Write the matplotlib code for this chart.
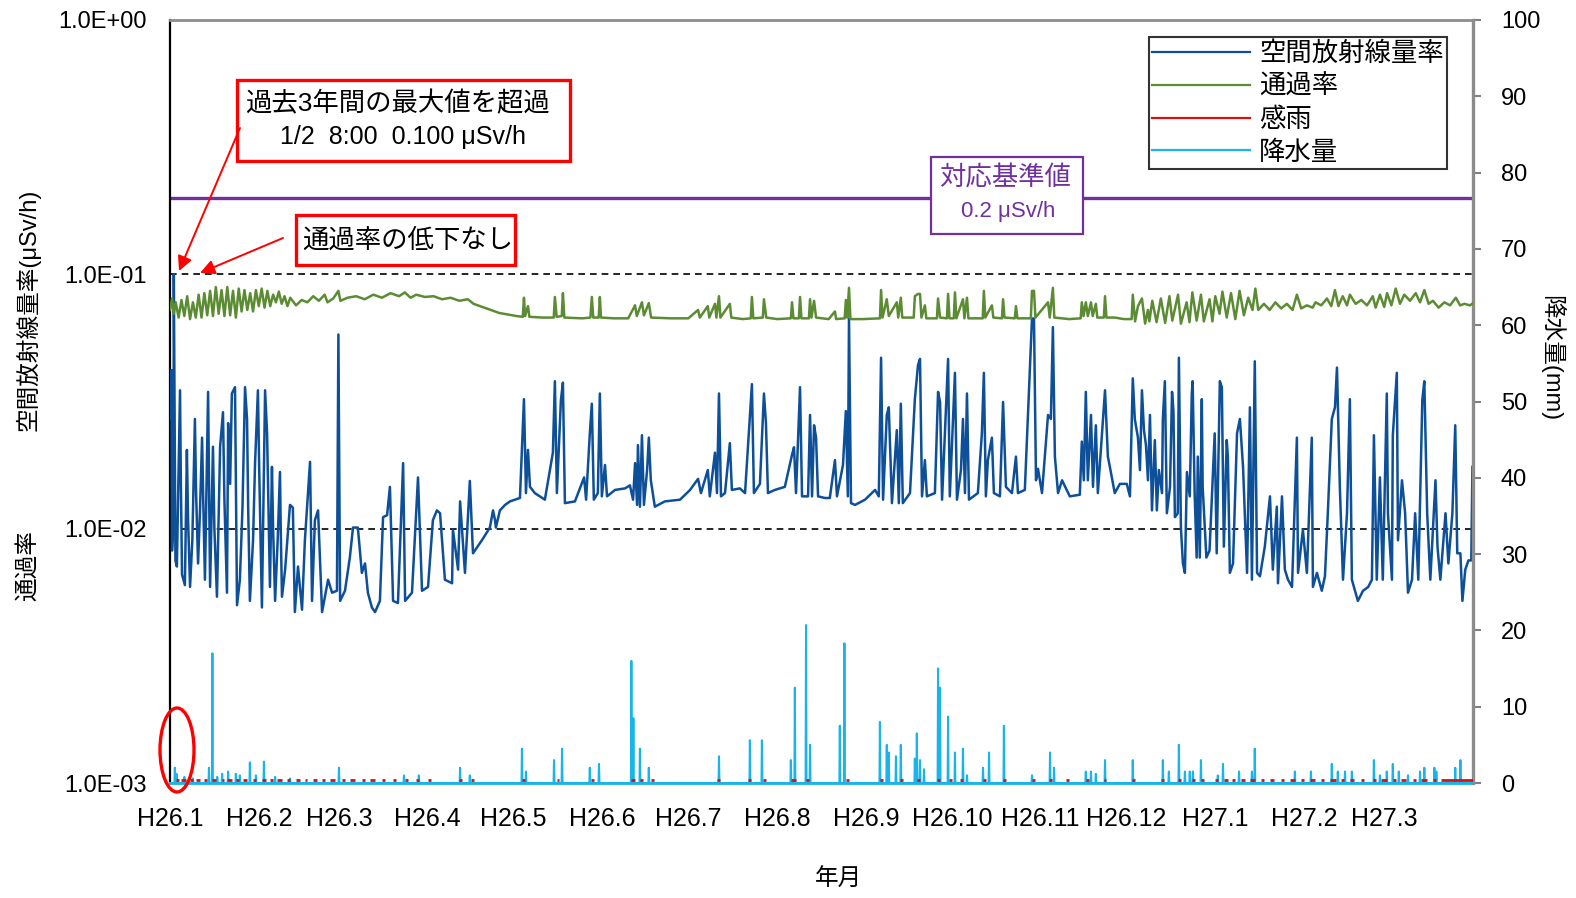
import matplotlib
matplotlib.use('Agg')
import matplotlib.pyplot as plt
from matplotlib.lines import Line2D
from matplotlib.patches import Rectangle, Ellipse, FancyArrowPatch
from matplotlib.ticker import NullLocator
from matplotlib.font_manager import FontProperties

# ---------------- data ----------------
month_days = [0, 31, 59, 90, 120, 151, 181, 212, 243, 273, 304, 334, 365, 396, 424]
month_labels = ['H26.1', 'H26.2', 'H26.3', 'H26.4', 'H26.5', 'H26.6', 'H26.7', 'H26.8',
                'H26.9', 'H26.10', 'H26.11', 'H26.12', 'H27.1', 'H27.2', 'H27.3']
left_ticks = [1e-3, 1e-2, 1e-1, 1e0]
left_tick_labels = ['1.0E-03', '1.0E-02', '1.0E-01', '1.0E+00']
right_ticks = list(range(0, 101, 10))
reference_level = 0.2          # 対応基準値 (μSv/h)
guide_levels = [0.1, 0.01]     # dashed guide lines

# 空間放射線量率 (μSv/h): (day since 2014-01-01, value)
dose_points = [
 (0.17,0.027),(0.52,0.042),(0.70,0.0082),(1.22,0.0108),(1.33,0.100),(1.9,0.0075),(2.4,0.0071),
 (3.5,0.035),(3.8,0.015),(4.2,0.0066),(5.2,0.0060),(5.9,0.0204),(6.3,0.011),(7.0,0.0059),(7.8,0.009),
 (8.7,0.027),(9.1,0.014),(9.8,0.0073),(10.5,0.012),(11.2,0.0228),(11.6,0.013),(12.2,0.0063),
 (13.3,0.0345),(13.6,0.016),(14.0,0.0059),(15.0,0.021),(15.5,0.010),(16.4,0.0054),(17.5,0.021),
 (18.5,0.0287),(19.0,0.013),(19.9,0.0056),(20.3,0.026),(21.0,0.015),(21.6,0.034),(22.7,0.036),
 (23.0,0.016),(23.4,0.0050),(24.4,0.0063),(25.3,0.012),(26.2,0.036),(26.9,0.027),(27.3,0.012),
 (27.9,0.0052),(29.0,0.009),(29.7,0.0181),(30.7,0.035),(31.2,0.016),(32.1,0.0049),(33.2,0.035),
 (33.9,0.0237),(34.9,0.0059),(35.6,0.0175),(36.0,0.010),(36.7,0.0052),(37.6,0.009),(38.4,0.0167),
 (38.7,0.0095),(39.1,0.0054),(40.2,0.0069),(41.9,0.0124),(42.9,0.0121),(43.6,0.0047),(44.7,0.0071),
 (46.1,0.0048),(47.1,0.0090),(48.9,0.0183),(49.6,0.0052),(50.6,0.0108),(51.7,0.0118),(53.1,0.0047),
 (54.1,0.0054),(55.2,0.0063),(56.6,0.0056),(58.3,0.0057),(58.8,0.058),(59.4,0.0052),(61.1,0.0057),
 (62.8,0.0077),(63.9,0.0101),(65.6,0.0101),(67.0,0.0067),(68.1,0.0073),(69.1,0.0056),(70.5,0.0049),
 (71.6,0.0047),(73.3,0.0052),(74.4,0.0111),(75.8,0.0113),(76.8,0.0146),(77.9,0.0052),(79.6,0.0051),
 (81.4,0.0181),(82.1,0.0052),(84.5,0.0056),(86.6,0.0159),(88.0,0.0057),(90.1,0.0059),(91.8,0.0108),
 (93.2,0.0118),(94.3,0.0115),(96.0,0.0063),(98.5,0.0061),(98.8,0.0099),(100.6,0.0069),(101.3,0.0128),
 (103.0,0.0067),(104.7,0.0154),(105.8,0.0080),(108.9,0.0090),(111.7,0.0101),(112.8,0.0118),(113.5,0.0108),
 (113.8,0.0101),(115.2,0.0118),(117.0,0.0124),(118.7,0.0128),(122.2,0.0132),(123.6,0.0323),(124.3,0.0138),
 (125.0,0.0204),(125.7,0.0146),(127.4,0.0138),(130.9,0.0130),(133.7,0.0199),(134.4,0.038),(135.1,0.0138),
 (136.5,0.032),(137.2,0.0375),(137.9,0.0126),(141.4,0.0128),(144.6,0.0159),(145.3,0.0130),(146.6,0.0237),
 (147.3,0.031),(148.0,0.0130),(149.4,0.0138),(150.1,0.034),(150.8,0.0134),(151.9,0.0178),(152.6,0.0134),
 (155.4,0.0142),(158.9,0.0144),(160.6,0.0148),(161.7,0.0130),(162.4,0.0181),(163.1,0.0124),(163.4,0.0213),
 (164.1,0.0122),(164.8,0.0233),(165.5,0.0124),(166.6,0.0170),(167.2,0.0228),(167.9,0.0155),(169.3,0.0122),
 (172.8,0.0128),(178.1,0.0130),(181.6,0.0142),(184.4,0.0157),(185.4,0.0138),(187.8,0.0170),(188.5,0.0134),
 (190.3,0.0199),(191.0,0.0138),(191.7,0.0340),(192.4,0.0134),(193.8,0.0138),(195.5,0.0217),(196.2,0.0142),
 (199.0,0.0144),(200.8,0.0138),(203.2,0.037),(203.9,0.0138),(206.0,0.0150),(207.4,0.034),(208.1,0.026),
 (208.8,0.0138),(211.2,0.0142),(214.7,0.0146),(217.2,0.0195),(217.9,0.0209),(218.6,0.0138),(220.0,0.036),
 (220.7,0.0134),(222.8,0.0134),(223.5,0.028),(224.2,0.0134),(224.9,0.0255),(225.6,0.0228),(226.3,0.0134),
 (228.7,0.0132),(230.4,0.0132),(232.2,0.0186),(232.9,0.0134),(235.0,0.0178),(236.0,0.029),(236.7,0.0134),
 (237.1,0.067),(237.8,0.0126),(239.2,0.0124),(242.7,0.0130),(246.2,0.0142),(247.5,0.0134),(248.3,0.047),
 (249.0,0.0130),(250.3,0.028),(251.0,0.030),(252.1,0.0126),(253.8,0.0244),(254.5,0.0126),(255.2,0.031),
 (255.9,0.0126),(258.4,0.0138),(260.1,0.0323),(261.2,0.044),(261.9,0.0465),(262.6,0.0134),(263.6,0.0186),
 (264.3,0.0134),(267.1,0.0138),(268.2,0.0345),(268.9,0.0315),(269.6,0.0130),(271.7,0.0465),(272.3,0.0134),
 (274.1,0.041),(274.8,0.0130),(276.2,0.0170),(276.9,0.027),(277.6,0.0138),(278.3,0.034),(279.0,0.0130),
 (282.1,0.0138),(283.5,0.0237),(284.2,0.041),(284.9,0.0134),(285.6,0.0186),(287.0,0.0228),(287.7,0.0138),
 (289.8,0.0134),(290.9,0.0315),(291.9,0.0146),(294.0,0.0138),(295.4,0.0192),(296.1,0.0138),(298.5,0.0142),
 (301.0,0.067),(301.7,0.067),(302.4,0.0155),(303.1,0.0172),(304.5,0.0138),(306.6,0.028),(307.6,0.027),
 (308.3,0.062),(309.0,0.0192),(310.1,0.0138),(311.5,0.0155),(314.2,0.0134),(317.7,0.0136),(318.4,0.022),
 (319.1,0.0155),(319.8,0.0345),(320.5,0.0155),(321.6,0.028),(322.3,0.0146),(323.3,0.0255),(324.0,0.0138),
 (326.5,0.035),(327.5,0.0192),(328.2,0.0175),(329.9,0.0138),(331.7,0.0150),(334.1,0.0150),(335.2,0.0134),
 (336.2,0.039),(336.9,0.027),(338.0,0.0228),(338.7,0.0170),(339.4,0.035),(340.1,0.0244),(340.8,0.0213),
 (341.5,0.0155),(342.2,0.028),(342.9,0.0118),(343.9,0.0223),(344.6,0.0118),(345.3,0.0170),(346.4,0.0138),
 (346.7,0.027),(347.4,0.038),(348.1,0.0115),(349.2,0.0146),(349.9,0.0345),(350.4,0.029),(350.9,0.0111),
 (351.9,0.0115),(352.3,0.047),(353.0,0.0101),(353.7,0.0073),(354.4,0.0067),(355.1,0.0167),(356.1,0.0134),
 (356.8,0.034),(357.1,0.038),(357.8,0.0138),(358.5,0.0077),(358.9,0.0192),(359.6,0.0077),(360.3,0.0323),
 (360.6,0.0146),(361.9,0.0077),(363.0,0.0082),(364.8,0.0237),(365.5,0.0080),(366.6,0.038),(367.3,0.036),
 (368.0,0.0085),(369.0,0.0223),(369.4,0.0192),(370.1,0.0067),(371.2,0.0073),(372.6,0.0237),(373.6,0.027),
 (374.7,0.0175),(376.1,0.0067),(377.1,0.030),(377.8,0.0063),(378.8,0.0455),(379.6,0.0067),(380.6,0.0065),
 (382.3,0.0085),(384.1,0.0134),(385.1,0.0069),(386.5,0.0122),(386.9,0.0061),(388.3,0.0134),(389.3,0.0069),
 (390.4,0.0063),(391.8,0.0059),(393.5,0.0228),(393.9,0.0067),(395.6,0.0099),(397.0,0.0067),(398.7,0.0228),
 (399.1,0.0059),(400.5,0.0067),(402.2,0.0057),(403.3,0.0065),(404.3,0.0115),(405.7,0.027),(406.8,0.030),
 (407.5,0.043),(408.5,0.0146),(409.6,0.0063),(411.0,0.0115),(412.0,0.0323),(412.7,0.0063),(413.8,0.0057),
 (414.8,0.0052),(416.6,0.0057),(418.4,0.0059),(419.7,0.0063),(420.4,0.0233),(421.4,0.0063),(422.5,0.0159),
 (423.5,0.0063),(424.9,0.034),(425.3,0.0115),(426.7,0.0063),(427.0,0.0233),(428.4,0.041),(428.8,0.0090),
 (430.2,0.0155),(431.3,0.0115),(432.3,0.0056),(433.7,0.0063),(434.8,0.0115),(435.9,0.0063),(437.3,0.032),
 (438.0,0.038),(439.0,0.0115),(440.1,0.0063),(441.9,0.0155),(442.6,0.0085),(443.6,0.0063),(445.4,0.0115),
 (446.4,0.0073),(447.8,0.0115),(448.8,0.0255),(449.5,0.0080),(450.6,0.0080),(451.3,0.0052),(452.3,0.0069),
 (453.4,0.0075),(454.4,0.0075),(454.8,0.0175),
]

# 通過率 (right axis): (day, value)
pass_points = [
 (0,62.0),(0.7,63.5),(1.3,61.5),(2,63.0),(3,61.0),(4,63.3),(5,61.2),(6,63.8),(7,60.8),(8,63.0),(9,61.0),
 (10,64.0),(11,61.0),(12,64.2),(13,61.3),(14,64.5),(15,61.2),(16,65.0),(17,61.5),(18,64.6),(19,61.2),
 (20,65.0),(21,61.3),(22,64.5),(23,61.0),(24,64.8),(25,61.8),(26,64.6),(27,62.0),(28,64.2),(29,61.8),
 (30,64.6),(31,62.5),(32,64.8),(33,62.3),(34,64.5),(35,62.5),(36,64.0),(37,63.0),(38,64.4),(39,62.8),
 (40,63.8),(41,62.5),(42,63.6),(44,62.6),(46,63.3),(48,63.0),(50,63.8),(52,63.2),(54,64.0),(55,63.0),
 (57,63.5),(58.8,64.5),(59.5,63.2),(62,63.6),(65,63.8),(68,63.4),(71,64.0),(74,63.6),(77,64.2),(80,63.8),
 (82,64.3),(84,63.6),(86,64.0),(89,63.7),(92,63.8),(95,63.4),(98,63.6),(101,63.2),(104,63.4),(106,62.8),
 (109,62.4),(112,62.0),(115,61.6),(118,61.4),(121,61.2),(123.2,61.1),(123.6,63.6),(124.0,61.2),(125.0,62.5),
 (125.5,61.1),(130,61.0),(134.0,61.0),(134.4,63.7),(135.0,61.1),(136.8,61.2),(137.2,64.2),(137.7,61.0),
 (144,60.9),(146.8,61.0),(147.3,63.7),(147.8,61.0),(149.7,61.0),(150.1,63.7),(150.5,61.0),(155,60.9),
 (160,60.9),(162.4,62.6),(163.0,61.2),(164.8,63.0),(165.5,61.3),(167.2,62.9),(168.0,61.0),(175,60.9),
 (181,60.9),(184.4,62.0),(185.0,61.0),(187.8,62.5),(188.3,61.0),(190.3,62.8),(190.8,61.0),(191.7,63.8),
 (192.2,61.0),(195.5,62.8),(196.0,61.0),(200,60.8),(202.8,60.9),(203.2,63.7),(203.7,60.9),(207.0,61.0),
 (207.4,63.4),(208.2,61.0),(212,60.8),(216.8,60.9),(217.2,63.0),(217.7,60.9),(219.6,60.9),(220.0,63.7),
 (220.5,60.9),(223.1,60.9),(223.5,63.4),(224.0,61.0),(224.9,63.2),(225.6,61.0),(230,60.8),(232.2,61.8),
 (232.6,60.8),(235.6,60.9),(236.0,63.3),(236.5,61.0),(237.1,64.9),(237.6,60.8),(242,60.8),(247.9,60.9),
 (248.3,64.6),(248.8,61.0),(250.3,63.4),(251.0,61.2),(253.8,63.0),(254.3,61.0),(255.2,63.6),(255.7,61.0),
 (259.7,61.0),(260.1,63.8),(261.2,64.1),(261.9,64.1),(262.4,61.0),(263.6,62.6),(264.1,60.9),(267.8,60.9),
 (268.2,63.5),(268.9,61.0),(271.3,60.9),(271.7,64.1),(272.2,60.9),(273.7,60.9),(274.1,64.3),(274.6,60.9),
 (276.9,63.4),(277.4,60.9),(278.3,63.6),(278.8,60.9),(283.8,60.9),(284.2,64.5),(284.7,61.0),(287.0,62.6),
 (287.5,61.0),(290.5,60.9),(290.9,63.4),(291.4,61.0),(295.0,60.9),(295.4,62.5),(295.9,60.9),(300.6,60.9),
 (301.0,64.5),(301.7,64.5),(302.2,61.0),(306.6,63.0),(307.2,61.0),(308.3,64.9),(308.8,61.0),(314,60.8),
 (318.0,60.9),(318.4,63.0),(319.0,61.2),(319.8,63.0),(320.5,61.2),(321.6,63.0),(322.2,61.2),(323.3,62.8),
 (323.8,61.0),(326.1,61.0),(326.5,63.8),(327.0,61.0),(330,61.0),(333,60.8),(335.8,60.8),(336.2,64.0),
 (337,60.5),(338,62.5),(339.4,63.5),(340.5,60.2),(341.5,62.0),(342,60.5),(343,63.2),(344.5,60.4),(346,63.5),
 (347.5,60.3),(349,63.8),(350,60.6),(352,64.0),(353,60.2),(355,63.0),(356,60.4),(357,64.3),(358.5,60.6),
 (360,64.0),(361,60.5),(363,63.4),(364,60.5),(365,63.8),(366.5,61.5),(367.5,64.4),(369,61.0),(370.5,64.2),
 (372,60.8),(373.5,64.5),(375,61.3),(376.5,63.6),(378,62.0),(379,64.8),(380,62.0),(382,62.8),(384,62.0),
 (386,63.0),(388,62.2),(390,62.8),(392,62.0),(393.5,64.0),(395,62.2),(397,62.6),(399,62.3),(400,63.0),
 (402,62.6),(404,63.5),(405.5,62.5),(406.8,64.6),(408,62.5),(409.5,63.8),(411,62.6),(412,64.0),(414,62.8),
 (416,63.3),(418,62.6),(420,63.8),(421,62.3),(422.5,64.0),(424,62.4),(425,64.2),(426.5,62.6),(428,64.8),
 (429.5,62.8),(431,64.0),(433,63.2),(435,64.2),(436.5,63.0),(438,64.6),(439.5,62.8),(441,63.2),(443,62.3),
 (445,63.0),(447,62.6),(449,63.6),(450.5,62.6),(452,62.8),(454,62.6),(455,62.9),
]

# 降水量 (mm): hourly peaks (day, mm); all other hours 0
rain_points = [
 (1.7,2.0),(2.3,1.2),(5.0,0.8),(8.0,0.6),(13.6,2.0),(14.8,17.0),(16.5,0.8),(18.2,1.2),(20.3,1.5),(23.0,1.2),
 (24.4,1.0),(27.9,2.7),(30.0,1.0),(32.8,2.8),(36.7,0.8),(41.9,0.6),(59.0,2.0),(81.7,1.0),(86.9,1.0),
 (101.3,2.0),(104.7,1.0),(122.9,4.5),(124.3,1.5),(134.1,3.0),(136.9,4.5),(146.6,2.0),(149.8,2.5),
 (161.1,16.0),(161.8,8.5),(164.1,4.5),(167.2,2.0),(191.7,3.5),(202.5,5.6),(206.7,5.6),(216.8,3.0),
 (218.2,12.5),(222.1,20.7),(223.5,5.0),(233.9,7.5),(235.5,18.3),(247.9,8.0),(250.3,5.0),(251.0,4.0),
 (253.5,3.5),(255.2,5.0),(260.1,3.2),(260.8,6.5),(261.9,3.0),(263.3,1.8),(268.2,15.0),(268.9,12.5),
 (271.7,8.7),(274.1,4.0),(276.9,4.5),(278.3,1.0),(283.9,2.0),(286.0,4.0),(291.2,7.5),(301.0,1.0),
 (307.3,4.0),(308.7,2.0),(319.8,1.5),(321.6,1.5),(323.3,1.2),(326.5,3.0),(336.2,3.0),(346.7,3.0),
 (348.8,1.5),(352.3,5.0),(354.4,1.5),(356.1,1.5),(357.2,1.5),(360.0,3.0),(365.9,1.0),(367.7,2.5),
 (373.3,1.5),(377.8,1.5),(378.8,4.5),(392.8,1.5),(398.4,1.5),(405.7,2.5),(407.8,1.5),(410.3,1.5),
 (412.7,1.5),(420.4,3.0),(422.5,1.0),(424.9,1.5),(427.0,2.5),(429.1,1.5),(432.3,1.0),(436.5,1.5),
 (438.0,2.0),(441.5,2.0),(442.2,1.5),(448.8,2.0),(450.6,3.0),
]

# 感雨 (rain sensor on) intervals in days
sense_intervals = [
 (2,3),(4,5.5),(7,8),(9,10.5),(12,13),(14.5,16),(18,19),(20,21.5),(23,24),(25.5,27),(29,30),(32,33.5),
 (35,36),(37.5,39),(41,42),(44,45.5),(47,48),(50,51.5),(53,54),(56,57.5),(60,61),(63,64.5),(67,68),
 (70,71.5),(74,75),(78,79),(82,83),(86,87),(90,91),(101,102),(105,106),(123,124),(135,136),(147,148),
 (161,162.5),(164,165),(168,169),(191,192),(202,203),(207,208),(217,218.5),(222,223),(236,237),(248,249),
 (255,256),(261,262),(268,269),(272,273),(276,277),(284,285),(291,292),(301,302),(307,308),(313,314),
 (320,321),(326,327),(336,337),(346,347),(352,353),(357,358),(360,361),(365,366),(368,369.5),(371,372),
 (374,375.5),(377,379),(381,382),(384,385.5),(388,389),(391,393),(395,396),(398,400),(402,403),(405,407),
 (409,410),(412,413.5),(416,417),(420,421),(423,425),(427,428),(430,431.5),(434,435),(437,439),(441,442),
 (444,455),
]
sense_level = 0.45
x_end = 455

# ---------------- figure ----------------
W, H = 1576, 898
fig = plt.figure(figsize=(W / 100, H / 100), dpi=100)
L, R, T, B = 170, 1473, 20, 783
ax = fig.add_axes([L / W, 1 - B / H, (R - L) / W, (B - T) / H])
ax2 = ax.twinx()

LAT = 'Liberation Sans'
CJK = 'Noto Sans CJK JP'
MIX = [LAT, CJK]

def P(x, y):
    return (x / W, 1 - y / H)

c_blue = '#0d4f98'
c_green = '#5b8c33'
c_red = '#d81010'
c_cyan = '#18b4ea'
c_purple = '#7030a0'

# dose rate (left log axis)
ax.plot([p[0] for p in dose_points], [p[1] for p in dose_points], color=c_blue, lw=1.8, zorder=3)
for g in guide_levels:
    ax.axhline(g, color='black', lw=1.2, ls=(0, (4, 3)), zorder=2)
ax.axhline(reference_level, color=c_purple, lw=2.4, zorder=2)

ax.set_yscale('log')
ax.set_ylim(1e-3, 1)
ax.set_xlim(0, x_end)
ax.set_yticks(left_ticks)
ax.set_yticklabels(left_tick_labels, fontfamily=LAT, fontsize=17)
ax.yaxis.set_minor_locator(NullLocator())
ax.tick_params(axis='y', length=0, pad=17)
ax.set_xticks(month_days)
ax.set_xticklabels(month_labels, fontfamily=LAT, fontsize=18)
ax.tick_params(axis='x', length=0, pad=17)

# right axis series
ax2.plot([p[0] for p in pass_points], [p[1] for p in pass_points], color=c_green, lw=1.8, zorder=3)
rx, ry = [0.0], [0.0]
for d, v in rain_points:
    rx += [d - 0.15, d, d + 0.15]
    ry += [0.0, v, 0.0]
rx.append(x_end)
ry.append(0.0)
ax2.plot(rx, ry, color=c_cyan, lw=1.5, zorder=3, clip_on=False)
ax2.hlines([sense_level] * len(sense_intervals), [s for s, e in sense_intervals],
           [e for s, e in sense_intervals], color=c_red, lw=2.0, zorder=4)
ax2.set_ylim(0, 100)
ax2.set_xlim(0, x_end)
ax2.set_yticks(right_ticks)
ax2.set_yticklabels([str(t) for t in right_ticks], fontfamily=LAT, fontsize=17)
ax2.tick_params(axis='y', direction='out', length=6, width=1.5, color='#808080', pad=14)

# spines
ax.spines['left'].set_color('black'); ax.spines['left'].set_linewidth(1.6)
ax.spines['top'].set_color('#8c8c8c'); ax.spines['top'].set_linewidth(2.0)
ax.spines['right'].set_visible(False)
ax.spines['bottom'].set_color(c_cyan); ax.spines['bottom'].set_linewidth(2.0)
ax2.spines['left'].set_visible(False)
ax2.spines['top'].set_visible(False)
ax2.spines['bottom'].set_visible(False)
ax2.spines['right'].set_color('#8c8c8c'); ax2.spines['right'].set_linewidth(2.4)

# axis titles
fig.text(*P(28, 310), '空間放射線量率(μSv/h)', rotation=90, ha='center', va='center', fontsize=17, family=MIX)
fig.text(*P(28, 566), '通過率', rotation=90, ha='center', va='center', fontsize=17, family=MIX)
fig.text(*P(1552, 358), '降水量(mm)', rotation=-90, ha='center', va='center', fontsize=17, family=MIX)
fig.text(*P(838, 880), '年月', ha='center', va='center', fontsize=17, family=MIX)

# legend
handles = [Line2D([], [], color=c_blue, lw=1.6), Line2D([], [], color=c_green, lw=1.6),
           Line2D([], [], color=c_red, lw=1.6), Line2D([], [], color=c_cyan, lw=1.6)]
labels = ['空間放射線量率', '通過率', '感雨', '降水量']
leg = fig.legend(handles, labels, loc='upper left', bbox_to_anchor=P(1149, 37), borderaxespad=0,
                 prop=FontProperties(family=CJK, size=19), frameon=True, fancybox=False,
                 handlelength=3.7, handletextpad=0.35, labelspacing=0.22, borderpad=0.12)
leg.get_frame().set_edgecolor('black')
leg.get_frame().set_linewidth(1.5)

# annotation boxes
def box(x0, y0, x1, y1, color, lw=2.4):
    r = Rectangle(P(x0, y1), (x1 - x0) / W, (y1 - y0) / H, transform=fig.transFigure,
                  facecolor='white', edgecolor=color, lw=lw, zorder=5)
    fig.add_artist(r)

box(237, 80, 570, 161, 'red')
fig.text(*P(397, 104), '過去3年間の最大値を超過', ha='center', va='center', fontsize=19, family=MIX, zorder=6)
fig.text(*P(403, 137), '1/2  8:00  0.100 μSv/h', ha='center', va='center', fontsize=18, family=MIX, zorder=6)
box(296, 215, 515, 265, 'red')
fig.text(*P(408, 240), '通過率の低下なし', ha='center', va='center', fontsize=19, family=MIX, zorder=6)
box(931, 157, 1083, 234, c_purple, lw=1.6)
fig.text(*P(1005, 178), '対応基準値', ha='center', va='center', fontsize=19, family=MIX, color=c_purple, zorder=6)
fig.text(*P(1008, 211), '0.2 μSv/h', ha='center', va='center', fontsize=16, family=MIX, color=c_purple, zorder=6)

for (x0, y0), (x1, y1) in [((240, 128), (179, 271)), ((283, 238), (200, 273))]:
    a = FancyArrowPatch(P(x0, y0), P(x1, y1), transform=fig.transFigure, arrowstyle='-|>',
                        mutation_scale=22, color='red', lw=1.4, zorder=6, shrinkA=0, shrinkB=0)
    fig.add_artist(a)

e = Ellipse(P(177, 750), 34 / W, 84 / H, transform=fig.transFigure, fill=False,
            edgecolor='red', lw=2.4, zorder=6)
fig.add_artist(e)

fig.savefig('out.png', dpi=100)
